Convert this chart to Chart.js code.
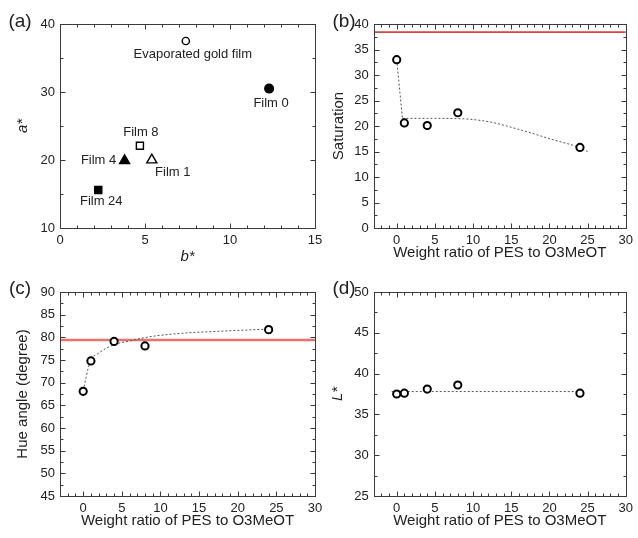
<!DOCTYPE html>
<html lang="en">
<head>
<meta charset="UTF-8" />
<title>Colour of gold films</title>
<script src="https://cdn.jsdelivr.net/npm/chart.js"></script>
<style>
  html, body { margin: 0; padding: 0; background: #fff; }
  .wrap { position: relative; width: 638px; height: 538px; overflow: hidden; }
  .wrap canvas { position: absolute; }
</style>
</head>
<body>
<div class="wrap">
  <canvas id="chartA" width="330" height="270" style="left:0;top:0"></canvas>
  <canvas id="chartB" width="320" height="270" style="left:318px;top:0"></canvas>
  <canvas id="chartC" width="330" height="270" style="left:0;top:268px"></canvas>
  <canvas id="chartD" width="320" height="270" style="left:318px;top:268px"></canvas>
</div>

<script>
  // ---- (a) a*/b* of the films ----
  const filmNames = ["Evaporated gold film", "Film 0", "Film 1", "Film 4", "Film 8", "Film 24"];
  const bStar = [7.4, 12.3, 5.4, 3.8, 4.7, 2.25];
  const aStar = [37.5, 30.5, 20.0, 19.9, 22.1, 15.6];

  // ---- (b)-(d) against weight ratio ----
  const weightRatio = [0, 1, 4, 8, 24];
  const saturation = [33.0, 20.6, 20.1, 22.6, 15.8];
  const hueAngle = [68.1, 74.8, 79.1, 78.1, 81.7];
  const lightness = [37.5, 37.6, 38.1, 38.6, 37.6];

  // dotted guide lines
  const satDropX = [0, 0.75];
  const satDropY = [33.0, 21.5];
  const satFitX = [0.75, 4, 8, 12, 16.3, 20.6, 23.7, 25];
  const satFitY = [21.5, 21.5, 21.45, 20.85, 19.2, 17.25, 15.9, 15.0];
  const hueFitX = [0, 0.9, 2, 3.9, 6.3, 8.5, 12.8, 17.1, 23.8];
  const hueFitY = [68.3, 74.6, 76.5, 78.3, 79.3, 80.1, 80.9, 81.3, 81.8];
  const lFitX = [-0.65, 24];
  const lFitY = [37.8, 37.8];

  // red reference levels (evaporated gold film)
  const satRef = 38.4;
  const hueRef = 79.4;

  // tick labels
  const ticksB = [0, 5, 10, 15];
  const ticksA = [10, 20, 30, 40];
  const ticksRatio = [0, 5, 10, 15, 20, 25, 30];
  const ticksSat = [0, 5, 10, 15, 20, 25, 30, 35, 40];
  const ticksHue = [45, 50, 55, 60, 65, 70, 75, 80, 85, 90];
  const ticksL = [25, 30, 35, 40, 45, 50];

  // marker looks for panel (a)
  const markerStyle = ["circle", "circle", "triangle", "triangle", "rect", "rect"];
  const markerFill = ["#fff", "#000", "#fff", "#000", "#fff", "#000"];
  const markerRadius = [3.6, 4.3, 5.8, 5.8, 5, 5];
  const labelShift = [[7, 13], [2, 15], [21, 12], [-26, 0], [1, -13], [3, 12]];

  const FONT = "'Liberation Sans', Arial, sans-serif";
  const INK = "#222";

  const pts = (xs, ys) => xs.map((x, i) => ({ x: x, y: ys[i] }));

  // box frame with inward ticks on all four sides + panel letter
  function makeFrame(f) {
    return {
      id: "frame",
      afterDraw(chart) {
        const ctx = chart.ctx;
        const a = chart.chartArea;
        const sx = chart.scales.x, sy = chart.scales.y;
        const L = Math.round(a.left) + 0.5, R = Math.round(a.right) + 0.5;
        const T = Math.round(a.top) + 0.5, B = Math.round(a.bottom) + 0.5;
        const isMajor = (v, m) => Math.abs(v / m - Math.round(v / m)) < 1e-6;
        ctx.save();
        ctx.lineWidth = 1;
        ctx.strokeStyle = "#3a3a3a";
        ctx.strokeRect(L, T, R - L, B - T);
        ctx.beginPath();
        let n = Math.round((f.xMax - f.xMin) / f.xMinor);
        for (let i = 0; i <= n; i++) {
          const v = f.xMin + i * f.xMinor;
          const len = isMajor(v, f.xMajor) ? 5 : 3;
          const px = Math.round(sx.getPixelForValue(v)) + 0.5;
          ctx.moveTo(px, B); ctx.lineTo(px, B - len);
          ctx.moveTo(px, T); ctx.lineTo(px, T + len);
        }
        n = Math.round((f.yMax - f.yMin) / f.yMinor);
        for (let i = 0; i <= n; i++) {
          const v = f.yMin + i * f.yMinor;
          const len = isMajor(v, f.yMajor) ? 5 : 3;
          const py = Math.round(sy.getPixelForValue(v)) + 0.5;
          ctx.moveTo(L, py); ctx.lineTo(L + len, py);
          ctx.moveTo(R, py); ctx.lineTo(R - len, py);
        }
        ctx.stroke();
        ctx.fillStyle = INK;
        ctx.font = "19px " + FONT;
        ctx.textAlign = "center";
        ctx.textBaseline = "middle";
        ctx.fillText(f.letter, f.letterX, f.letterY);
        ctx.restore();
      }
    };
  }

  // film names next to the markers of panel (a)
  const filmLabels = {
    id: "filmLabels",
    afterDatasetsDraw(chart) {
      const meta = chart.getDatasetMeta(0);
      const ctx = chart.ctx;
      ctx.save();
      ctx.fillStyle = INK;
      ctx.font = "13px " + FONT;
      ctx.textAlign = "center";
      ctx.textBaseline = "middle";
      meta.data.forEach((el, i) => {
        ctx.fillText(filmNames[i], el.x + labelShift[i][0], el.y + labelShift[i][1]);
      });
      ctx.restore();
    }
  };

  function makeOptions(g) {
    return {
      responsive: false,
      animation: false,
      layout: { padding: { left: 0, top: 24, right: g.padRight, bottom: 0 } },
      plugins: {
        legend: { display: false },
        tooltip: { enabled: false }
      },
      scales: {
        x: {
          type: "linear", min: g.xMin, max: g.xMax,
          afterBuildTicks: s => { s.ticks = g.xTicks.map(v => ({ value: v })); },
          afterFit: s => { s.height = 42; },
          grid: { display: false, drawTicks: false },
          border: { display: false },
          ticks: { font: { family: FONT, size: 13 }, color: INK, padding: 5, maxRotation: 0, autoSkip: false },
          title: { display: true, text: g.xTitle, color: INK,
                   font: { family: FONT, size: 15, style: g.xItalic ? "italic" : "normal", lineHeight: 1.2 },
                   padding: { top: 0, bottom: g.xTitlePad } }
        },
        y: {
          type: "linear", min: g.yMin, max: g.yMax,
          afterBuildTicks: s => { s.ticks = g.yTicks.map(v => ({ value: v })); },
          afterFit: s => { s.width = g.yWidth; },
          grid: { display: false, drawTicks: false },
          border: { display: false },
          ticks: { font: { family: FONT, size: 13 }, color: INK, padding: 5, autoSkip: false },
          title: { display: true, text: g.yTitle, color: INK,
                   font: { family: FONT, size: 15, style: g.yItalic ? "italic" : "normal", lineHeight: 1.2 },
                   padding: { top: g.yTitlePad, bottom: 0 } }
        }
      }
    };
  }

  const openCircles = data => ({
    data: data, showLine: false, pointStyle: "circle",
    pointRadius: 3.6, pointBorderWidth: 2, pointBorderColor: "#000", pointBackgroundColor: "#fff"
  });
  const dotted = data => ({
    data: data, showLine: true, pointRadius: 0, borderColor: "#555", borderWidth: 1,
    borderDash: [2, 2], cubicInterpolationMode: "monotone"
  });
  const redLine = (level, color, width) => ({
    data: [{ x: -3, y: level }, { x: 30, y: level }], showLine: true, pointRadius: 0,
    borderColor: color, borderWidth: width
  });

  // (a)
  new Chart(document.getElementById("chartA"), {
    type: "scatter",
    data: {
      datasets: [{
        data: pts(bStar, aStar),
        pointStyle: markerStyle, pointRadius: markerRadius,
        pointBackgroundColor: markerFill, pointBorderColor: "#000", pointBorderWidth: 1.4
      }]
    },
    options: makeOptions({
      padRight: 15, yWidth: 60, xMin: 0, xMax: 15, yMin: 10, yMax: 40,
      xTicks: ticksB, yTicks: ticksA, xTitle: "b*", yTitle: "a*", xItalic: true, yItalic: true,
      xTitlePad: 4, yTitlePad: 14
    }),
    plugins: [filmLabels, makeFrame({ xMin: 0, xMax: 15, yMin: 10, yMax: 40,
      xMinor: 1, xMajor: 5, yMinor: 5, yMajor: 10, letter: "(a)", letterX: 20, letterY: 22 })]
  });

  // (b)
  new Chart(document.getElementById("chartB"), {
    type: "scatter",
    data: {
      datasets: [
        openCircles(pts(weightRatio, saturation)),
        dotted(pts(satDropX, satDropY)),
        dotted(pts(satFitX, satFitY)),
        redLine(satRef, "#e0413b", 1.8)
      ]
    },
    options: makeOptions({
      padRight: 9, yWidth: 55.8, xMin: -3, xMax: 30, yMin: 0, yMax: 40,
      xTicks: ticksRatio, yTicks: ticksSat, xTitle: "Weight ratio of PES to O3MeOT", yTitle: "Saturation",
      xTitlePad: 8, yTitlePad: 12
    }),
    plugins: [makeFrame({ xMin: -3, xMax: 30, yMin: 0, yMax: 40,
      xMinor: 1, xMajor: 5, yMinor: 2.5, yMajor: 5, letter: "(b)", letterX: 26, letterY: 22 })]
  });

  // (c)
  new Chart(document.getElementById("chartC"), {
    type: "scatter",
    data: {
      datasets: [
        openCircles(pts(weightRatio, hueAngle)),
        dotted(pts(hueFitX, hueFitY)),
        redLine(hueRef, "#ec726c", 2.5)
      ]
    },
    options: makeOptions({
      padRight: 15, yWidth: 60, xMin: -3, xMax: 30, yMin: 45, yMax: 90,
      xTicks: ticksRatio, yTicks: ticksHue, xTitle: "Weight ratio of PES to O3MeOT", yTitle: "Hue angle (degree)",
      xTitlePad: 8, yTitlePad: 14
    }),
    plugins: [makeFrame({ xMin: -3, xMax: 30, yMin: 45, yMax: 90,
      xMinor: 1, xMajor: 5, yMinor: 2.5, yMajor: 5, letter: "(c)", letterX: 20, letterY: 21 })]
  });

  // (d)
  new Chart(document.getElementById("chartD"), {
    type: "scatter",
    data: {
      datasets: [
        openCircles(pts(weightRatio, lightness)),
        dotted(pts(lFitX, lFitY))
      ]
    },
    options: makeOptions({
      padRight: 9, yWidth: 55.8, xMin: -3, xMax: 30, yMin: 25, yMax: 50,
      xTicks: ticksRatio, yTicks: ticksL, xTitle: "Weight ratio of PES to O3MeOT", yTitle: "L*", yItalic: true,
      xTitlePad: 8, yTitlePad: 11
    }),
    plugins: [makeFrame({ xMin: -3, xMax: 30, yMin: 25, yMax: 50,
      xMinor: 1, xMajor: 5, yMinor: 2.5, yMajor: 5, letter: "(d)", letterX: 26, letterY: 21 })]
  });
</script>
</body>
</html>
